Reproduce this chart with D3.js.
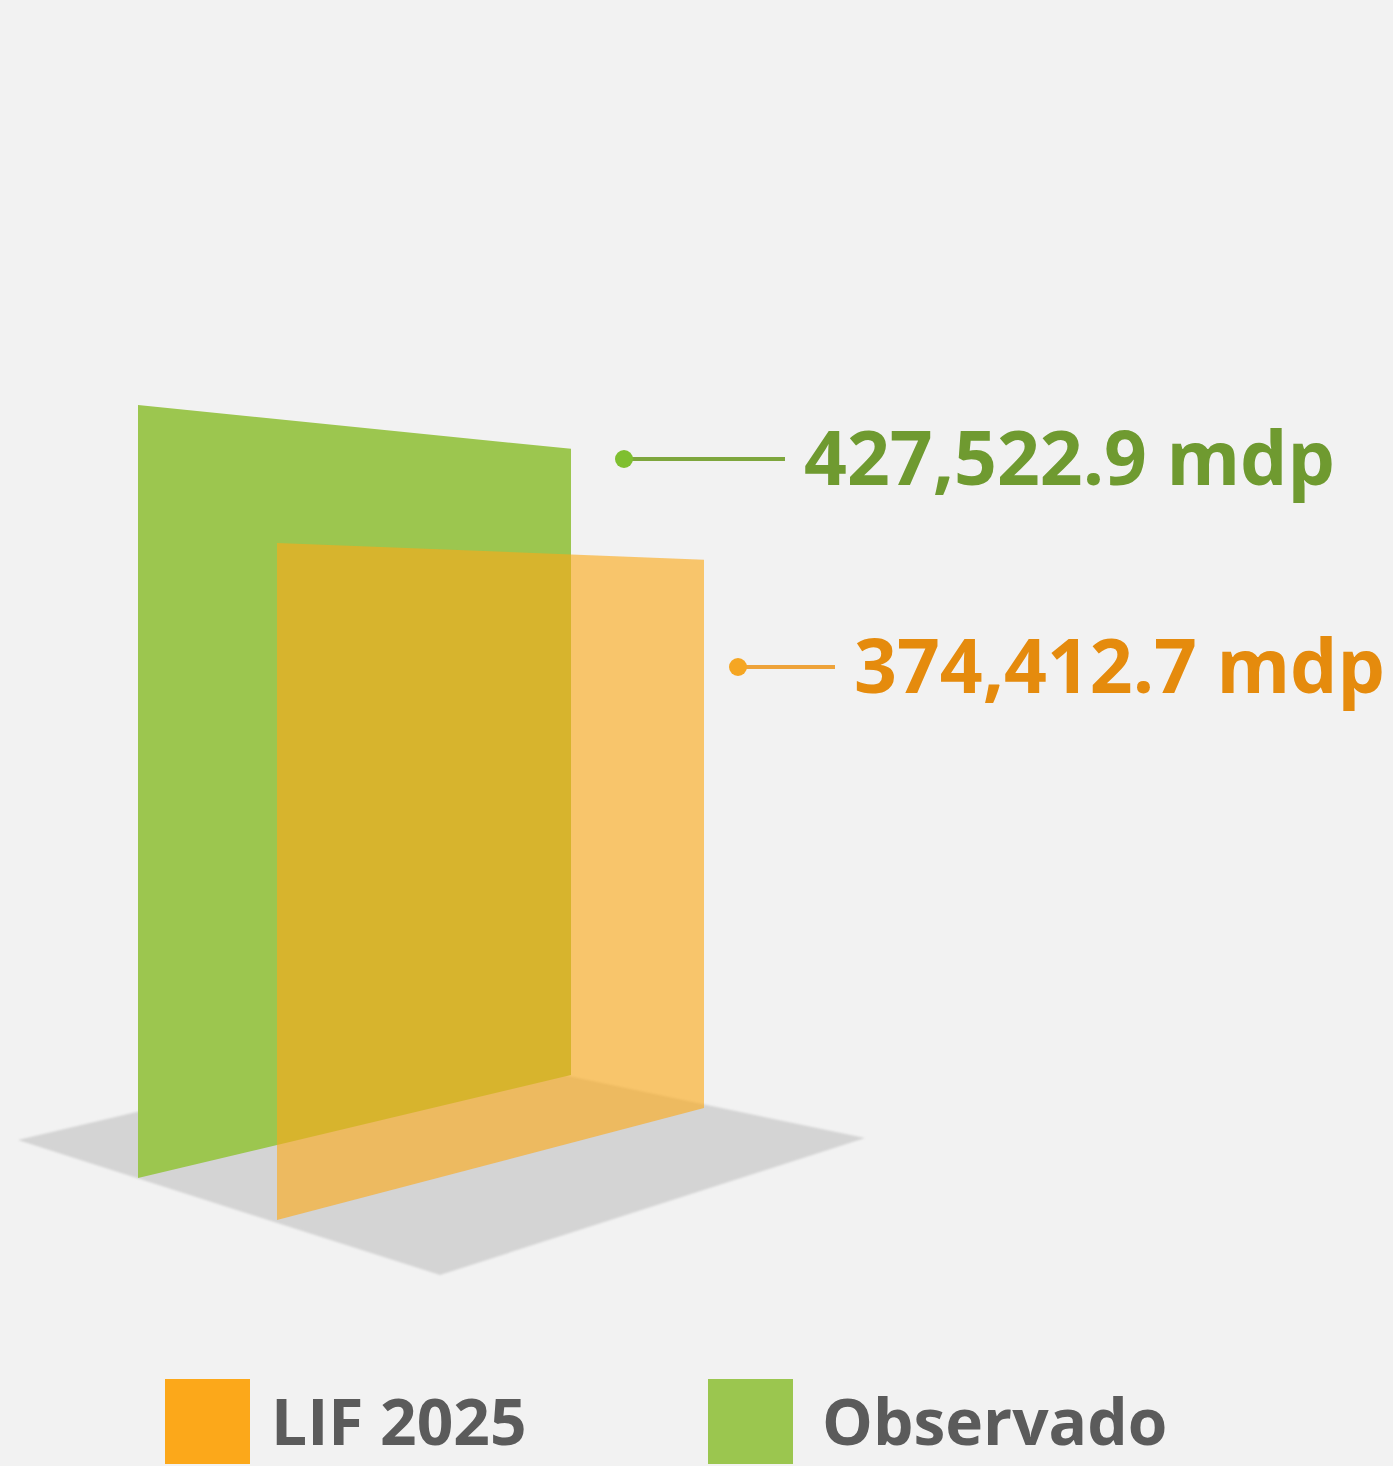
<!DOCTYPE html>
<html>
<head>
<meta charset="utf-8">
<script src="https://cdn.jsdelivr.net/npm/d3@7"></script>
<style>
  html, body { margin: 0; padding: 0; background: #f2f2f2; }
  svg { display: block; }
</style>
</head>
<body>
<div id="chart"></div>
<script>
// data
const series = ['LIF 2025', 'Observado'];
const values = [374412.7, 427522.9];
const labels = ['374,412.7 mdp', '427,522.9 mdp'];

const width = 1393;
const height = 1466;

const colors = {
  'LIF 2025': { fill: '#fca918', opacity: 0.62, dot: '#f5a623', line: '#eea33a', text: '#e58b0d', legend: '#fca81a' },
  'Observado': { fill: '#9cc64f', opacity: 1, dot: '#7fbf30', line: '#7ea63d', text: '#6f9a30', legend: '#9bc64f' }
};

// panel layout: front-left / back-right base points, label anchor
const layout = {
  'Observado': { x0: 138, x1: 571, b0: 1178, b1: 1075, dotX: 624, dotY: 459, lineEnd: 785, textX: 804 },
  'LIF 2025': { x0: 277, x1: 704, b0: 1220, b1: 1108, dotX: 738, dotY: 667, lineEnd: 835, textX: 854 }
};
const depth = 0.81; // perspective shrink of the far edge

const svg = d3.select('#chart').append('svg')
  .attr('width', width)
  .attr('height', height);

svg.append('rect').attr('width', width).attr('height', height).attr('fill', '#f2f2f2');

const h = d3.scaleLinear().domain([0, d3.max(values)]).range([0, 773]);

// floor shadow
const defs = svg.append('defs');
defs.append('filter').attr('id', 'soft')
  .append('feGaussianBlur').attr('stdDeviation', 1.2);

svg.append('polygon')
  .attr('points', [[18, 1140], [420, 1045], [865, 1138], [440, 1275]].map(p => p.join(',')).join(' '))
  .attr('fill', '#d4d4d4')
  .attr('filter', 'url(#soft)');

// panels, back one (Observado) first
const order = ['Observado', 'LIF 2025'];
const panels = svg.append('g');
order.forEach(name => {
  const i = series.indexOf(name);
  const l = layout[name];
  const hl = h(values[i]);
  const hr = h(values[i]) * depth;
  const pts = [[l.x0, l.b0 - hl], [l.x1, l.b1 - hr], [l.x1, l.b1], [l.x0, l.b0]];
  panels.append('polygon')
    .attr('points', pts.map(p => p.join(',')).join(' '))
    .attr('fill', colors[name].fill)
    .attr('fill-opacity', colors[name].opacity);
});

// value labels
const lab = svg.append('g').style('font-family', '"Open Sans", sans-serif');
series.forEach((name, i) => {
  const l = layout[name];
  const c = colors[name];
  lab.append('line')
    .attr('x1', l.dotX).attr('y1', l.dotY)
    .attr('x2', l.lineEnd).attr('y2', l.dotY)
    .attr('stroke', c.line).attr('stroke-width', 4);
  lab.append('circle')
    .attr('cx', l.dotX).attr('cy', l.dotY).attr('r', 9)
    .attr('fill', c.dot);
  lab.append('text')
    .attr('x', l.textX).attr('y', l.dotY + 26)
    .attr('fill', c.text)
    .style('font-size', '75px')
    .style('font-weight', 700)
    .text(labels[i]);
});

// legend
const legendPos = [{ x: 165, tx: 271 }, { x: 708, tx: 822 }];
const legend = svg.append('g').style('font-family', '"Open Sans", sans-serif');
series.forEach((name, i) => {
  const g = legend.append('g');
  g.append('rect')
    .attr('x', legendPos[i].x).attr('y', 1379)
    .attr('width', 85).attr('height', 85)
    .attr('fill', colors[name].legend);
  g.append('text')
    .attr('x', legendPos[i].tx).attr('y', 1445)
    .attr('fill', '#5b5b5b')
    .style('font-size', '64px')
    .style('font-weight', 700)
    .text(name);
});
</script>
</body>
</html>
